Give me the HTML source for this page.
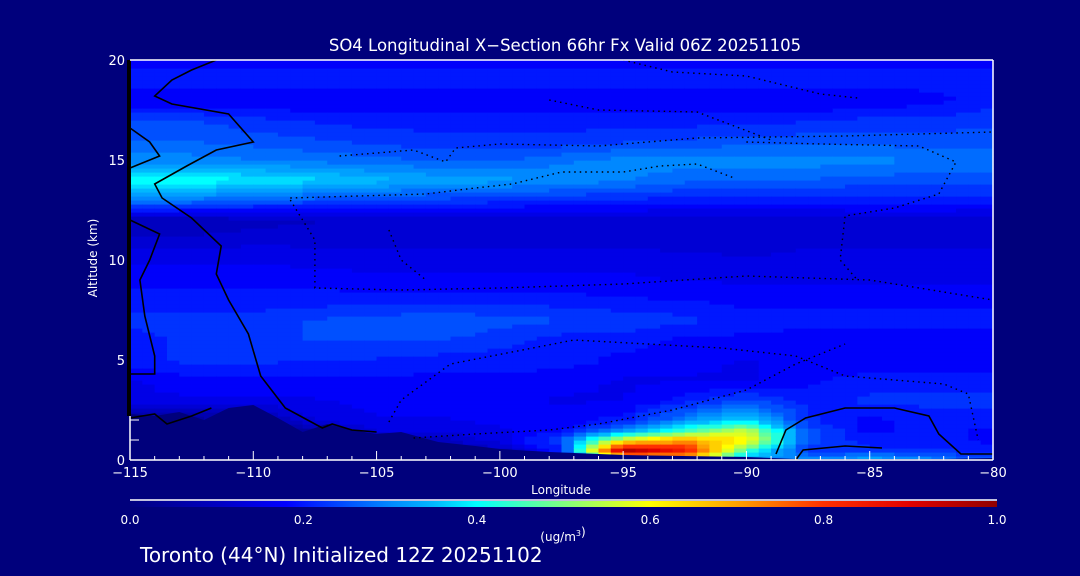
<!DOCTYPE html>
<html><head><meta charset="utf-8"><style>
html,body{margin:0;padding:0;background:#00007c;width:1080px;height:576px;overflow:hidden}
svg{display:block}
text{font-family:"DejaVu Sans","Liberation Sans",sans-serif;fill:#fff}
</style></head><body>
<svg id="chart" width="1080" height="576" viewBox="0 0 1080 576" xmlns="http://www.w3.org/2000/svg">
<rect width="1080" height="576" fill="#00007c"/>
<g id="field"></g>
<g id="terrain"></g>
<g id="contours"></g>
<g id="axes"></g>
<text x="565" y="51" font-size="16.5" text-anchor="middle">SO4 Longitudinal X−Section 66hr  Fx Valid 06Z 20251105</text>
<text x="561" y="494" font-size="12" text-anchor="middle">Longitude</text>
<text x="97" y="258" font-size="12" text-anchor="middle" transform="rotate(-90 97 258)">Altitude (km)</text>
<defs><linearGradient id="cbg" x1="0" x2="1" y1="0" y2="0">
<stop offset="0" stop-color="#000080"/><stop offset="0.1" stop-color="#0000c0"/><stop offset="0.18" stop-color="#0000ff"/><stop offset="0.25" stop-color="#0050ff"/><stop offset="0.3" stop-color="#0088ff"/><stop offset="0.35" stop-color="#00b8ff"/><stop offset="0.4" stop-color="#00ffff"/><stop offset="0.5" stop-color="#80ff80"/><stop offset="0.6" stop-color="#ffff00"/><stop offset="0.7" stop-color="#ffa000"/><stop offset="0.8" stop-color="#ff3000"/><stop offset="0.9" stop-color="#e00000"/><stop offset="1" stop-color="#900000"/>
</linearGradient></defs>
<line x1="130" y1="500" x2="997" y2="500" stroke="#fff" stroke-width="1.5"/>
<rect x="130" y="501" width="867" height="6" fill="url(#cbg)"/>
<g id="cbticks"></g>
<text x="563" y="541" font-size="12" text-anchor="middle">(ug/m<tspan font-size="8" dy="-5">3</tspan>)</text>
<text x="140" y="562" font-size="20">Toronto (44°N) Initialized 12Z 20251102</text>
</svg>
<script>
const lons=[-115,-112.5,-110,-107.5,-105,-102.5,-100,-97.5,-95,-92.5,-90,-87.5,-85,-82.5,-80];
const alts=[0,0.5,1,1.5,2,3,4,5,6,7,8,9,10,11,12,13,14,15,16,17,18,19,20];
const values=[
[.05,.05,.05,.05,.05,.06,.08,.12,.5,.6,.3,.3,.35,.3,.25],
[.05,.05,.05,.05,.05,.07,.1,.2,.95,.85,.45,.22,.22,.22,.2],
[.05,.05,.05,.05,.06,.1,.15,.25,.6,.7,.62,.25,.2,.2,.18],
[.05,.05,.05,.06,.14,.14,.16,.18,.3,.45,.55,.25,.18,.2,.18],
[.05,.05,.06,.14,.16,.16,.17,.17,.2,.3,.38,.22,.18,.2,.2],
[.15,.16,.16,.16,.17,.17,.17,.16,.16,.2,.24,.2,.22,.22,.22],
[.16,.18,.18,.18,.18,.18,.18,.17,.16,.16,.16,.18,.2,.2,.2],
[.2,.22,.22,.21,.21,.2,.2,.2,.18,.17,.16,.17,.17,.17,.17],
[.2,.22,.22,.24,.24,.24,.22,.2,.2,.18,.18,.17,.17,.17,.17],
[.22,.22,.22,.24,.25,.26,.25,.24,.23,.22,.2,.2,.2,.2,.2],
[.2,.2,.2,.2,.2,.2,.2,.2,.19,.19,.18,.18,.18,.18,.18],
[.18,.18,.18,.18,.17,.17,.17,.17,.17,.16,.16,.16,.16,.16,.16],
[.16,.16,.16,.15,.15,.15,.15,.15,.15,.15,.14,.15,.15,.15,.15],
[.12,.12,.13,.13,.13,.13,.13,.13,.13,.12,.12,.13,.13,.13,.13],
[.09,.09,.1,.11,.12,.12,.12,.12,.12,.12,.12,.12,.13,.13,.12],
[.3,.28,.26,.25,.24,.23,.22,.21,.21,.2,.2,.2,.2,.2,.2],
[.42,.41,.39,.37,.35,.33,.32,.31,.29,.27,.26,.26,.25,.25,.25],
[.3,.3,.29,.28,.27,.26,.26,.28,.3,.3,.3,.3,.3,.28,.28],
[.26,.26,.25,.24,.23,.22,.22,.22,.23,.24,.25,.25,.25,.25,.25],
[.24,.24,.22,.21,.2,.2,.2,.2,.2,.2,.2,.21,.22,.22,.23],
[.16,.16,.16,.16,.16,.16,.16,.16,.16,.16,.16,.16,.16,.18,.2],
[.2,.2,.2,.2,.2,.2,.2,.2,.2,.2,.2,.2,.2,.2,.2],
[.18,.18,.18,.18,.18,.18,.18,.18,.18,.18,.18,.18,.18,.18,.18]];
const terrainLon=[-115,-114,-113,-112,-111,-110,-109,-108,-107,-106,-105,-104,-102.5,-101,-100,-98,-97,-95,-90,-88,-85,-82,-80];
const terrainAlt=[2.3,2.2,2.4,2.0,2.6,2.75,2.1,1.4,1.8,1.5,1.3,1.4,0.9,0.7,0.55,0.4,0.35,0.25,0.15,0.05,0.05,0.05,0.1];
const xTicks=[-115,-110,-105,-100,-95,-90,-85,-80];
const yTicks=[0,5,10,15,20];
const cbTicks=["0.0","0.2","0.4","0.6","0.8","1.0"];
const solidLines=[
 [[-111.5,20],[-112.5,19.5],[-113.3,19],[-114,18.2],[-113.3,17.8],[-111,17.3],[-110,15.9],[-111.5,15.5],[-112.7,14.7],[-114,13.8],[-113.7,13.1],[-112.5,12.1],[-111.3,10.7],[-111.5,9.3],[-111,8],[-110.2,6.3],[-109.7,4.2],[-108.7,2.6],[-107.2,1.6],[-106.8,1.8],[-106,1.5],[-105,1.4]],
 [[-115,16.6],[-114.2,15.9],[-113.8,15.2],[-115,14.6]],
 [[-115,12],[-113.8,11.3],[-114.2,10],[-114.6,9],[-114.4,7.2],[-114,5.2],[-114,4.3],[-115,4.3]],
 [[-115,2.1],[-114,2.3],[-113.5,1.8],[-112.5,2.2],[-111.7,2.6]],
 [[-88.8,0.3],[-88.4,1.5],[-87.6,2.1],[-86,2.6],[-84,2.6],[-82.6,2.2],[-82.2,1.3],[-81.3,0.3],[-80,0.3]],
 [[-88,0],[-87.7,0.5],[-86,0.7],[-84.5,0.6]]];
const dottedLines=[
 [[-106.5,15.2],[-103.5,15.5],[-102.2,14.9],[-101.8,15.6],[-100,15.8],[-96,15.7],[-92,16.1],[-86,16.2],[-80,16.4]],
 [[-108.5,13.1],[-103,13.3],[-101,13.6],[-99.5,13.8],[-97.5,14.4],[-95,14.4],[-93.5,14.7],[-92,14.8],[-90.5,14.1]],
 [[-108.5,13],[-108,12],[-107.5,11],[-107.5,9.5],[-107.5,8.6],[-104,8.5],[-100,8.6],[-95,8.8],[-90,9.2],[-85,9],[-80,8]],
 [[-104.5,11.5],[-104,10],[-103,9]],
 [[-98,18],[-96,17.5],[-92,17.4],[-89,16]],
 [[-95,20],[-93,19.4],[-90,19.2],[-87,18.3],[-85.5,18.1]],
 [[-90,15.9],[-87,15.8],[-83,15.7],[-81.5,14.9],[-82.2,13.3],[-84,12.6],[-86,12.2],[-86.2,10],[-85.5,9]],
 [[-104.5,1.9],[-104,3],[-102,4.8],[-97,6],[-91,5.6],[-88,5.2],[-86,4.2],[-82,3.8],[-81,3.3],[-80.6,1]],
 [[-103.5,1.1],[-101,1.3],[-98,1.5],[-96,1.8],[-93,2.5],[-90,3.5],[-88,4.8],[-86,5.8]]];
const X0=130,X1=993,Y0=460,Y1=60;
function sx(l){return X0+(l-lons[0])/(lons[lons.length-1]-lons[0])*(X1-X0);}
function sy(a){return Y0-(a-alts[0])/(alts[alts.length-1]-alts[0])*(Y0-Y1);}
const stops=[[0,[0,0,128]],[.1,[0,0,192]],[.18,[0,0,255]],[.25,[0,80,255]],[.3,[0,136,255]],[.35,[0,184,255]],[.4,[0,255,255]],[.5,[128,255,128]],[.6,[255,255,0]],[.7,[255,160,0]],[.8,[255,48,0]],[.9,[224,0,0]],[1,[144,0,0]]];
function cmap(v){v=Math.max(0,Math.min(1,Math.round(v*40)/40));for(let i=1;i<stops.length;i++){if(v<=stops[i][0]){const a=stops[i-1],b=stops[i],t=(v-a[0])/(b[0]-a[0]);const c=a[1].map((x,k)=>Math.round(x+(b[1][k]-x)*t));return `rgb(${c})`;}}return 'rgb(144,0,0)';}
function idx(arr,v){for(let i=0;i<arr.length-1;i++){if(v<=arr[i+1])return i;}return arr.length-2;}
function sample(l,a){const i=idx(lons,l),j=idx(alts,a);const tx=(l-lons[i])/(lons[i+1]-lons[i]),ty=(a-alts[j])/(alts[j+1]-alts[j]);
 const v00=values[j][i],v10=values[j][i+1],v01=values[j+1][i],v11=values[j+1][i+1];
 return v00*(1-tx)*(1-ty)+v10*tx*(1-ty)+v01*(1-tx)*ty+v11*tx*ty;}
const NS='http://www.w3.org/2000/svg';
function mk(t,at,p){const e=document.createElementNS(NS,t);for(const k in at)e.setAttribute(k,at[k]);p.appendChild(e);return e;}
const field=document.getElementById('field');
const dl=0.5,da=0.2;
for(let l=lons[0];l<lons[lons.length-1]-1e-9;l+=dl){for(let a=alts[0];a<alts[alts.length-1]-1e-9;a+=da){
 const v=sample(l+dl/2,a+da/2);
 const r=mk('rect',{x:sx(l).toFixed(2),y:sy(a+da).toFixed(2),width:(sx(l+dl)-sx(l)+0.6).toFixed(2),height:(sy(a)-sy(a+da)+0.6).toFixed(2),fill:cmap(v)},field);
 
 
}}
const ter=document.getElementById('terrain');
let tp=`M${sx(terrainLon[0])},${Y0} `+terrainLon.map((l,i)=>`L${sx(l).toFixed(1)},${sy(terrainAlt[i]).toFixed(1)}`).join(' ')+` L${sx(terrainLon[terrainLon.length-1])},${Y0} Z`;
const tpath=mk('path',{d:tp,fill:'#00007c'},ter);


const cg=document.getElementById('contours');
function pl(pts){return pts.map(p=>sx(p[0]).toFixed(1)+','+sy(p[1]).toFixed(1)).join(' ');}
solidLines.forEach(pts=>{const e=mk('polyline',{points:pl(pts),fill:'none',stroke:'#000','stroke-width':1.6},cg);
 
 });
dottedLines.forEach(pts=>{const e=mk('polyline',{points:pl(pts),fill:'none',stroke:'#000','stroke-width':1.4,'stroke-dasharray':'1.5 4'},cg);
 
 });
const ax=document.getElementById('axes');
const lt=mk('rect',{x:127,y:Y1,width:4,height:Y0-Y1-44,fill:'#000'},ax);


[[X0,Y1,X1,Y1],[X1,Y1,X1,Y0],[X0,Y0,X1,Y0],[X0,Y0-44,X0,Y0]].forEach(s=>{const e=mk('line',{x1:s[0],y1:s[1],x2:s[2],y2:s[3],stroke:'#fff','stroke-width':1.5},ax);
 
 });
for(let l=-115;l<=-80;l++){const maj=xTicks.includes(l);const e=mk('line',{x1:sx(l),x2:sx(l),y1:Y0,y2:Y0-(maj?9:4),stroke:'#fff','stroke-width':1},ax);
 
 }
xTicks.forEach(l=>{const t=mk('text',{x:sx(l),y:Y0+17,'font-size':13,'text-anchor':'middle'},ax);t.textContent=(l<0?'−':'')+Math.abs(l);
 
 });
for(let a=1;a<=2;a++){const e=mk('line',{x1:X0,x2:X0+9,y1:sy(a),y2:sy(a),stroke:'#fff'},ax);
 
 }
yTicks.forEach(a=>{const t=mk('text',{x:X0-5,y:sy(a)+5,'font-size':13,'text-anchor':'end'},ax);t.textContent=a;
 
 });
const cbt=document.getElementById('cbticks');
cbTicks.forEach((s,i)=>{const t=mk('text',{x:130+i*867/5,y:524,'font-size':12,'text-anchor':'middle'},cbt);t.textContent=s;
 
 });
</script>
</body></html>
